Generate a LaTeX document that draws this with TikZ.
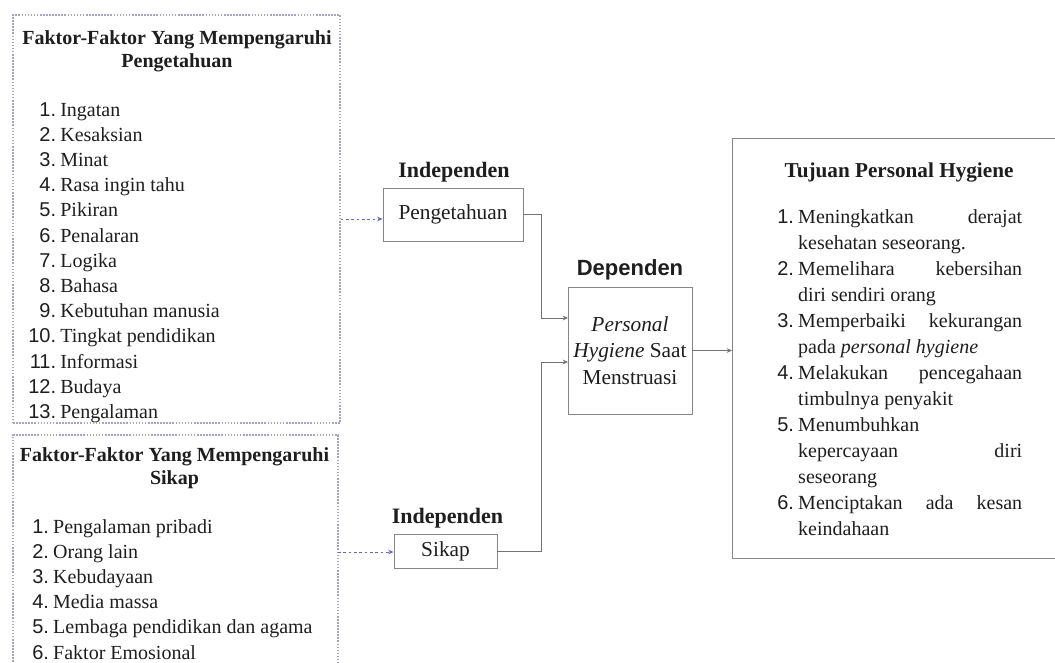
\documentclass[tikz,border=0pt]{standalone}
\usepackage{fontspec}
\usepackage{array}
\setmainfont{Liberation Serif}
\newfontfamily\numf{Liberation Sans}
\usetikzlibrary{arrows.meta}
\definecolor{dotc}{RGB}{165,165,195}
\definecolor{arrc}{RGB}{105,105,180}
\definecolor{linec}{RGB}{115,115,115}
\definecolor{boxc}{RGB}{135,135,135}
\definecolor{txt}{RGB}{30,30,30}
\newcommand{\jl}[1]{\makebox[\linewidth][s]{#1}}
\begin{document}
\begin{tikzpicture}[x=0.75pt,y=-0.75pt,
  body/.style={font=\fontsize{15}{18.9}\selectfont, text=txt, inner sep=0pt},
  ttl/.style={font=\bfseries\fontsize{15}{17.5}\selectfont, text=txt, inner sep=0pt},
  indep/.style={font=\bfseries\fontsize{16.5}{19}\selectfont, text=txt, inner sep=0pt},
  dept/.style={font=\numf\bfseries\fontsize{16.5}{19}\selectfont, text=txt, inner sep=0pt},
  dotbox/.style={draw=dotc, line width=0.8pt, dash pattern=on 1.2pt off 1.1pt, inner sep=0pt},
  varbox/.style={draw=boxc, line width=0.7pt, font=\fontsize{16}{20}\selectfont, text=txt, inner sep=0pt},
  conn/.style={draw=linec, line width=0.7pt, -{Stealth[length=4pt,width=3.5pt]}},
  dasharr/.style={draw=arrc, line width=0.7pt, dash pattern=on 2pt off 2pt, -{Stealth[length=4pt,width=3.5pt]}}
]
\useasboundingbox (0,0) rectangle (1055,662);
\fill[white] (0,0) rectangle (1055,662);

% ---- left factor boxes ----
\node[dotbox, minimum width=245.25pt, minimum height=306pt] (kbox) at (176.5,219) {};
\draw[dotc, line width=0.8pt, dash pattern=on 1.2pt off 1.1pt] (13,662) -- (13,435) -- (338,435) -- (338,662);
\coordinate (sboxR) at (338,552);

\node[ttl, align=center] (ktitle) at (177,51.5) {Faktor-Faktor Yang Mempengaruhi\\Pengetahuan};
\node[ttl, align=center] (stitle) at (174.5,468.5) {Faktor-Faktor Yang Mempengaruhi\\Sikap};

\node[body, anchor=base west] (klist) at (28,116) {\begin{tabular}[t]{@{}>{\numf}r@{\hspace{3.2pt}}l@{}}
1. & Ingatan\\
2. & Kesaksian\\
3. & Minat\\
4. & Rasa ingin tahu\\
5. & Pikiran\\
6. & Penalaran\\
7. & Logika\\
8. & Bahasa\\
9. & Kebutuhan manusia\\
10. & Tingkat pendidikan\\
11. & Informasi\\
12. & Budaya\\
13. & Pengalaman
\end{tabular}};

\node[body, anchor=base west] (slist) at (32,533) {\begin{tabular}[t]{@{}>{\numf}r@{\hspace{3.2pt}}l@{}}
1. & Pengalaman pribadi\\
2. & Orang lain\\
3. & Kebudayaan\\
4. & Media massa\\
5. & Lembaga pendidikan dan agama\\
6. & Faktor Emosional
\end{tabular}};

% ---- independent variables ----
\node[indep] (i1) at (454,172) {Independen};
\node[varbox, minimum width=105pt, minimum height=39.75pt] (peng) at (453,214.5) {Pengetahuan};
\node[indep] (i2) at (447.5,518) {Independen};
\node[varbox, minimum width=77.25pt, minimum height=25.5pt] (sikap) at (445.5,551) {Sikap};

% ---- dependent variable ----
\node[dept] (d0) at (630,270) {Dependen};
\node[varbox, align=center, minimum width=93pt, minimum height=95.25pt] (dep) at (630,350.5) {\textit{Personal}\\\textit{Hygiene} Saat\\Menstruasi};
\coordinate (jx) at (541,0);
\coordinate (d1) at (568,318);
\coordinate (d2) at (568,362);

% ---- goals box ----
\draw[boxc, line width=0.7pt] (1055,138) -- (732,138) -- (732,558) -- (1055,558);
\coordinate (tujuanL) at (732,349);
\node[ttl, font=\bfseries\fontsize{15.9}{18}\selectfont] (ttitle) at (899,172) {Tujuan Personal Hygiene};
\node[body, anchor=base west, font=\fontsize{15}{19.5}\selectfont] (tlist) at (777,223) {\begin{tabular}[t]{@{}>{\numf}r@{\hspace{3.2pt}}p{168pt}@{}}
1. & \jl{Meningkatkan derajat}\newline kesehatan seseorang.\\
2. & \jl{Memelihara kebersihan}\newline diri sendiri orang\\
3. & \jl{Memperbaiki kekurangan}\newline pada \textit{personal hygiene}\\
4. & \jl{Melakukan pencegahaan}\newline timbulnya penyakit\\
5. & Menumbuhkan\newline \jl{kepercayaan diri}\newline seseorang\\
6. & \jl{Menciptakan ada kesan}\newline keindahaan
\end{tabular}};

% ---- connectors ----
\draw[dasharr] (kbox.east) -- (kbox.east -| peng.west);
\draw[dasharr] (sboxR) -- (sboxR -| sikap.west);
\draw[conn] (peng.east) -- (peng.east -| jx) |- (d1);
\draw[conn] (sikap.east) -- (sikap.east -| jx) |- (d2);
\draw[conn] (dep.east) -- (dep.east -| tujuanL);
\end{tikzpicture}
\end{document}
